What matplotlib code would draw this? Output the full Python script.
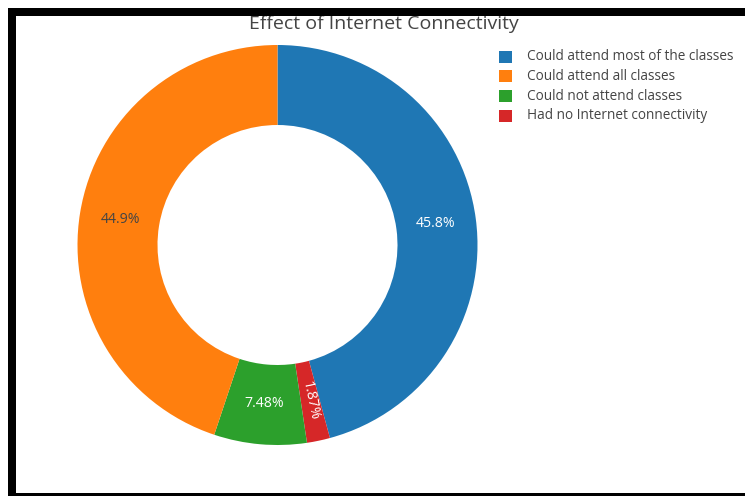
import numpy as np
import matplotlib
matplotlib.use("Agg")
import matplotlib.pyplot as plt
from matplotlib.patches import Rectangle

plt.rcParams['font.family'] = ['Open Sans', 'DejaVu Sans']

title = "Effect of Internet Connectivity"
categories = ["Could attend most of the classes", "Could attend all classes",
              "Could not attend classes", "Had no Internet connectivity"]
values = [45.8, 44.9, 7.48, 1.87]
colors = ["#1f77b4", "#ff7f0e", "#2ca02c", "#d62728"]
text_colors = ["white", "#444444", "white", "white"]

W, H = 745, 496
fig = plt.figure(figsize=(W / 100, H / 100), dpi=100)
fig.patch.set_facecolor("white")


def px_rect(x0, y0, w, h, color, z=10):
    """Rectangle given in pixel units measured from the top-left corner."""
    fig.patches.append(Rectangle((x0 / W, 1 - (y0 + h) / H), w / W, h / H,
                                 transform=fig.transFigure, facecolor=color,
                                 edgecolor="none", zorder=z))


# Frame lines along the left, top and bottom edges
px_rect(8, 8, 8, H - 8, "black")
px_rect(8, 8, W - 8, 8, "black")
px_rect(8, 493, W - 8, 3, "black")

# Donut axes: centre (277.5, 245) px, radius 200 px
cx, cy, r = 277.5, 245, 200
ax = fig.add_axes([(cx - r) / W, 1 - (cy + r) / H, 2 * r / W, 2 * r / H])

order = [0, 3, 2, 1]
total = sum(values)
wedges, _ = ax.pie([values[i] for i in order], colors=[colors[i] for i in order],
                   startangle=90, counterclock=False, radius=1,
                   wedgeprops=dict(width=0.4, linewidth=0))
ax.set_xlim(-1, 1)
ax.set_ylim(-1, 1)
ax.set_aspect("equal")
ax.axis("off")

for w, i in zip(wedges, order):
    pct = values[i] / total * 100
    mid_deg = (w.theta1 + w.theta2) / 2
    mid = np.deg2rad(mid_deg)
    x, y = 0.795 * np.cos(mid), 0.795 * np.sin(mid)
    span = abs(w.theta2 - w.theta1)
    rot = 0
    if span < 15:
        rot = mid_deg - 360 if mid_deg > 180 else mid_deg
    ax.text(x, y, f"{pct:.3g}%", ha="center", va="center", fontsize=10.2,
            color=text_colors[i], rotation=rot, rotation_mode="anchor")

fig.text(384 / W, 1 - 24 / H, title, ha="center", va="center",
         fontsize=14, color="#444444")

# Legend: square swatches with labels, one row per category
row_y = [57, 76.5, 96, 115.5]
for yc, c, lab in zip(row_y, colors, categories):
    px_rect(499, yc - 6, 13, 12, c, z=5)
    fig.text(527 / W, 1 - yc / H, lab, ha="left", va="center",
             fontsize=9.8, color="#444444")

fig.savefig("out.png", dpi=100, facecolor="white")
